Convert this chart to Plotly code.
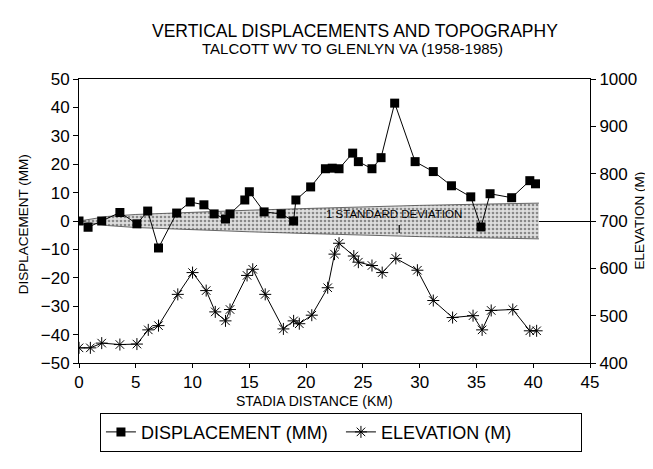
import plotly.graph_objects as go

# Displacement (mm) vs stadia distance (km)
disp_km = [0, 0.8, 2.0, 3.6, 5.1, 6.05, 7.0, 8.6, 9.8, 11.0, 11.9, 12.9, 13.3, 14.6, 15.0,
           16.3, 17.8, 18.9, 19.1, 20.4, 21.7, 22.3, 22.9, 24.1, 24.6, 25.8, 26.6, 27.8,
           29.6, 31.2, 32.8, 34.5, 35.4, 36.2, 38.1, 39.7, 40.2]
disp_mm = [0, -2.2, 0, 3, -1, 3.5, -9.5, 2.8, 6.7, 5.7, 2.5, 0.7, 2.5, 7.4, 10.3,
           3.2, 2.5, 0, 7.4, 12, 18.4, 18.6, 18.4, 23.9, 20.9, 18.4, 22.3, 41.5,
           20.9, 17.4, 12.4, 8.5, -2.1, 9.6, 8.2, 14.2, 13.1]

# Elevation (m) vs stadia distance (km)
elev_km = [0, 1.0, 2.0, 3.6, 5.1, 6.1, 7.0, 8.7, 10.0, 11.2, 12.0, 12.9, 13.3, 14.8, 15.3,
           16.4, 18.0, 18.9, 19.4, 20.5, 21.9, 22.5, 22.9, 24.2, 24.6, 25.8, 26.7, 27.9,
           29.8, 31.2, 32.9, 34.7, 35.5, 36.3, 38.2, 39.7, 40.3]
elev_m = [432, 432, 442, 439, 440, 470, 479, 545, 591, 553, 508, 489, 513, 585, 598,
          545, 472, 489, 483, 501, 559, 630, 653, 626, 613, 606, 591, 621,
          596, 532, 496, 500, 470, 511, 513, 468, 468]

# One standard deviation band (mm)
band_km = [0, 2.5, 5, 10, 15, 20, 25, 30, 35, 40.5]
band_sd = [0, 1.6, 2.3, 3.1, 3.8, 4.4, 5.0, 5.5, 5.9, 6.3]

# Small tick marker under band label
tick_km = [28.2, 28.2]
tick_mm = [-1.4, -4.2]

FONT = "Liberation Sans, Arial, sans-serif"

fig = go.Figure()

fig.add_trace(go.Scatter(
    x=band_km, y=[-s for s in band_sd], mode="lines",
    line=dict(color="#444", width=0.8), showlegend=False, hoverinfo="skip"))
fig.add_trace(go.Scatter(
    x=band_km, y=band_sd, mode="lines", fill="tonexty",
    fillcolor="#cfcfcf",
    fillpattern=dict(shape=".", fgcolor="#333", bgcolor="#dedede", size=4, solidity=0.35),
    line=dict(color="#444", width=0.8), showlegend=False, hoverinfo="skip"))

fig.add_trace(go.Scatter(
    x=tick_km, y=tick_mm, mode="lines", line=dict(color="black", width=1.2),
    showlegend=False, hoverinfo="skip"))

fig.add_trace(go.Scatter(
    x=disp_km, y=disp_mm, mode="lines+markers", name="DISPLACEMENT (MM)",
    line=dict(color="black", width=1),
    marker=dict(symbol="square", size=9, color="black")))

fig.add_trace(go.Scatter(
    x=elev_km, y=elev_m, mode="lines+markers", name="ELEVATION (M)", yaxis="y2",
    line=dict(color="black", width=1),
    marker=dict(symbol="asterisk-open", size=10, color="black",
                line=dict(color="black", width=1))))

fig.add_annotation(x=27.7, y=2.3, text="1 STANDARD DEVIATION", showarrow=False,
                   font=dict(family=FONT, size=11.5, color="black"))

# Titles (paper coords: plot area spans y 71..355 px, x 71..582 px)
fig.add_annotation(x=0.54, y=1.169, xref="paper", yref="paper", yanchor="middle",
                   text="VERTICAL DISPLACEMENTS AND TOPOGRAPHY", showarrow=False,
                   font=dict(family=FONT, size=17.5, color="black"))
fig.add_annotation(x=0.535, y=1.107, xref="paper", yref="paper", yanchor="middle",
                   text="TALCOTT WV TO GLENLYN VA (1958-1985)", showarrow=False,
                   font=dict(family=FONT, size=15, color="black"))
fig.add_annotation(x=0.46, y=-0.133, xref="paper", yref="paper", yanchor="middle",
                   text="STADIA DISTANCE (KM)", showarrow=False,
                   font=dict(family=FONT, size=14, color="black"))
fig.add_annotation(x=-0.107, y=0.49, xref="paper", yref="paper", xanchor="center",
                   text="DISPLACEMENT (MM)", textangle=-90, showarrow=False,
                   font=dict(family=FONT, size=13.5, color="black"))
fig.add_annotation(x=1.095, y=0.5, xref="paper", yref="paper", xanchor="center",
                   text="ELEVATION (M)", textangle=-90, showarrow=False,
                   font=dict(family=FONT, size=13.5, color="black"))

axis_common = dict(showgrid=False, showline=True, linecolor="black", linewidth=1,
                   ticks="outside", tickcolor="black",
                   tickfont=dict(family=FONT, size=17, color="black"))

fig.update_layout(
    width=653, height=469,
    margin=dict(l=71, r=71, t=71, b=114, autoexpand=False),
    paper_bgcolor="white", plot_bgcolor="white",
    font=dict(family=FONT, color="black"),
    xaxis=dict(range=[0, 45], tickvals=[0, 5, 10, 15, 20, 25, 30, 35, 40, 45],
               mirror=True, zeroline=False, ticklabelstandoff=0, ticklen=4, **axis_common),
    yaxis=dict(range=[-50, 50], tickvals=list(range(-50, 51, 10)), ticklen=5,
               zeroline=True, zerolinecolor="black", zerolinewidth=1, **axis_common),
    yaxis2=dict(range=[400, 1000], tickvals=[400, 500, 600, 700, 800, 900, 1000],
                overlaying="y", side="right", zeroline=False, ticklen=5, **axis_common),
    legend=dict(orientation="h", x=0.041, y=-0.175, xanchor="left", yanchor="top",
                bordercolor="black", borderwidth=1, traceorder="normal",
                font=dict(family=FONT, size=18, color="black"),
                entrywidth=195, entrywidthmode="pixels", itemwidth=30),
)

fig.write_html("out.html")
